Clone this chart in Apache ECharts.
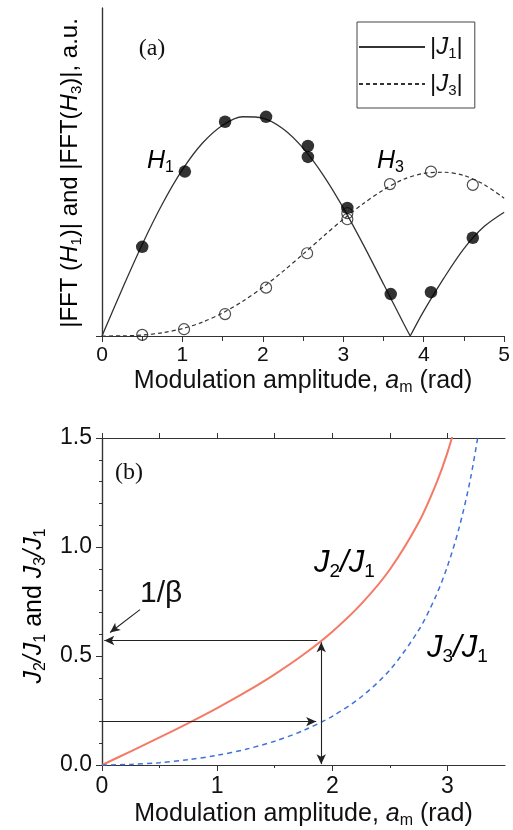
<!DOCTYPE html>
<html>
<head>
<meta charset="utf-8">
<script src="https://cdn.jsdelivr.net/npm/echarts@6/dist/echarts.min.js"></script>
<style>html,body{margin:0;padding:0;background:#fff}#c{width:513px;height:830px}</style>
</head>
<body>
<div id="c"></div>
<script>
// ---------- Panel (a) data ----------
const xJ1a = [0, 0.25, 0.5, 0.75, 1, 1.25, 1.5, 1.75, 2, 2.25, 2.5, 2.75, 3, 3.25, 3.5, 3.75, 3.832];
const yJ1a = [0, 0.124, 0.2423, 0.3492, 0.4401, 0.5106, 0.5579, 0.5802, 0.5767, 0.5484, 0.4971, 0.426, 0.3391, 0.2411, 0.1374, 0.0329, 0];
const xJ1b = [3.832, 4, 4.25, 4.5, 4.75, 5];
const yJ1b = [0, 0.066, 0.153, 0.2311, 0.2895, 0.3276];
const xJ3 = [0, 0.25, 0.5, 0.75, 1, 1.25, 1.5, 1.75, 2, 2.25, 2.5, 2.75, 3, 3.25, 3.5, 3.75, 4, 4.25, 4.5, 4.75, 5];
const yJ3 = [0, 0.0003, 0.0026, 0.0085, 0.0196, 0.0368, 0.061, 0.0919, 0.1289, 0.1711, 0.2166, 0.2634, 0.3091, 0.3505, 0.3868, 0.4147, 0.4302, 0.4333, 0.4247, 0.401, 0.3648];
const xH1 = [0.5, 1.03, 1.53, 2.04, 2.56, 2.56, 3.05, 3.59, 4.09, 4.61];
const yH1 = [0.236, 0.435, 0.567, 0.58, 0.503, 0.474, 0.339, 0.111, 0.116, 0.26];
const xH3 = [0.5, 1.02, 1.53, 2.04, 2.55, 3.05, 3.05, 3.58, 4.09, 4.61];
const yH3 = [0.003, 0.018, 0.058, 0.128, 0.219, 0.309, 0.325, 0.402, 0.435, 0.4];

// ---------- Panel (b) data ----------
const xR21 = [0, 0.25, 0.5, 0.75, 1, 1.25, 1.5, 1.75, 2, 2.25, 2.5, 2.75, 2.9, 3, 3.1];
const yR21 = [0, 0.0627, 0.1263, 0.1922, 0.2611, 0.3351, 0.416, 0.5067, 0.6118, 0.738, 0.897, 1.112, 1.287, 1.433, 1.616];
const xR31 = [0, 0.25, 0.5, 0.75, 1, 1.25, 1.5, 1.75, 2, 2.25, 2.5, 2.75, 2.9, 3, 3.1, 3.2, 3.3];
const yR31 = [0, 0.0026, 0.0106, 0.0243, 0.0444, 0.0721, 0.1093, 0.1584, 0.2235, 0.312, 0.4357, 0.6183, 0.7754, 0.9115, 1.085, 1.313, 1.62];
const xTicksB = [0, 1, 2, 3];
const xMinorTicksB = [0.5, 1.5, 2.5];
const xTopTicksB = [0, 0.5, 1, 1.5, 2, 2.5, 3];
// arrows: [x1, y1, x2, y2]
const arrowBeta = [0.33, 0.713, 0.07, 0.608];
const arrowUpperH = [1.87, 0.571, 0.02, 0.571];
const arrowVert = [1.904, 0.563, 1.904, 0.004];
const arrowLowerH = [0, 0.199, 1.86, 0.199];

const zip = (xs, ys) => xs.map((x, i) => [x, ys[i]]);
const SANS = 'Liberation Sans';
const SERIF = 'Liberation Serif';
const AX = '#333';

const chart = echarts.init(document.getElementById('c'), null, {renderer: 'canvas'});

function richSet(size, color) {
  return {
    n: {fontFamily: SANS, fontSize: size, color: color},
    i: {fontFamily: SANS, fontSize: size, fontStyle: 'italic', color: color},
    s: {fontFamily: SANS, fontSize: Math.round(size * 0.62), color: color, padding: [Math.round(size * 0.55), 0, 0, 0]}
  };
}

const xNameA = '{n|Modulation amplitude, }{i|a}{s|m}{n| (rad)}';

const baseLine = {show: true, lineStyle: {color: AX, width: 1.2}};

function arrowLine(a, sym) {
  return [{coord: [a[0], a[1]], symbol: sym[0]}, {coord: [a[2], a[3]], symbol: sym[1]}];
}

const option = {
  animation: false,
  backgroundColor: '#fff',
  grid: [
    {left: 102, right: 8, top: 8, height: 328},
    {left: 102, right: 8, top: 438, height: 327.5}
  ],
  legend: {
    data: ['|J1|', '|J3|'],
    orient: 'vertical',
    left: 357, top: 22,
    padding: [13, 12, 10, 1],
    itemWidth: 66, itemHeight: 14, itemGap: 11,
    borderColor: '#444', borderWidth: 1,
    itemStyle: {opacity: 0, borderWidth: 0},
    formatter: function (name) {
      return name === '|J1|' ? '{n||}{i|J}{s|1}{n||}' : '{n||}{i|J}{s|3}{n||}';
    },
    textStyle: {rich: richSet(24, '#111')},
    selectedMode: false
  },
  xAxis: [
    {gridIndex: 0, type: 'value', position: 'bottom', min: 0, max: 5, interval: 1,
     axisLine: baseLine, splitLine: {show: false},
     axisTick: {show: true, inside: false, length: 6, lineStyle: {color: AX}},
     minorTick: {show: true, splitNumber: 2, length: 3, lineStyle: {color: AX}},
     axisLabel: {fontFamily: SANS, fontSize: 21, color: '#111', margin: 9},
     name: xNameA, nameLocation: 'middle', nameGap: 30,
     nameTextStyle: {rich: richSet(25, '#111')}},
    {gridIndex: 0, type: 'value', position: 'top', min: 0, max: 5, interval: 0.5,
     axisLine: baseLine, splitLine: {show: false},
     axisTick: {show: true, inside: true, length: 5, lineStyle: {color: AX}},
     axisLabel: {show: false}},
    {gridIndex: 1, type: 'value', position: 'bottom', min: 0, max: 3.5,
     axisLine: baseLine, splitLine: {show: false},
     axisTick: {show: true, inside: false, length: 6, customValues: xTicksB, lineStyle: {color: AX}},
     axisLabel: {fontFamily: SANS, fontSize: 23, color: '#111', margin: 10, customValues: xTicksB},
     name: xNameA, nameLocation: 'middle', nameGap: 34,
     nameTextStyle: {rich: richSet(25, '#111')}},
    {gridIndex: 1, type: 'value', position: 'bottom', min: 0, max: 3.5,
     axisLine: {show: false}, splitLine: {show: false},
     axisTick: {show: true, inside: false, length: 3, customValues: xMinorTicksB, lineStyle: {color: AX}},
     axisLabel: {show: false}},
    {gridIndex: 1, type: 'value', position: 'top', min: 0, max: 3.5,
     axisLine: baseLine, splitLine: {show: false},
     axisTick: {show: true, inside: false, length: 5, customValues: xTopTicksB, lineStyle: {color: AX}},
     axisLabel: {show: false}}
  ],
  yAxis: [
    {gridIndex: 0, type: 'value', position: 'left', min: 0, max: 0.868,
     axisLine: baseLine, splitLine: {show: false},
     axisTick: {show: true, length: 6, customValues: [0], lineStyle: {color: AX}},
     axisLabel: {show: false}},
    {gridIndex: 0, type: 'value', position: 'right', min: 0, max: 0.868,
     axisLine: baseLine, splitLine: {show: false}, axisTick: {show: false}, axisLabel: {show: false}},
    {gridIndex: 1, type: 'value', position: 'left', min: 0, max: 1.5, interval: 0.5,
     axisLine: baseLine, splitLine: {show: false},
     axisTick: {show: true, length: 6, lineStyle: {color: AX}},
     minorTick: {show: true, splitNumber: 5, length: 3, lineStyle: {color: AX}},
     axisLabel: {fontFamily: SANS, fontSize: 23, color: '#111', margin: 10,
       formatter: v => v.toFixed(1)}},
    {gridIndex: 1, type: 'value', position: 'right', min: 0, max: 1.5,
     axisLine: baseLine, splitLine: {show: false}, axisTick: {show: false}, axisLabel: {show: false}}
  ],
  series: [
    {name: '|J1|', type: 'line', xAxisIndex: 0, yAxisIndex: 0, data: zip(xJ1a, yJ1a),
     smooth: 0.3, symbol: 'none', lineStyle: {color: '#333', width: 1.3}, itemStyle: {color: '#333'}},
    {name: '|J1|', type: 'line', xAxisIndex: 0, yAxisIndex: 0, data: zip(xJ1b, yJ1b),
     smooth: 0.3, symbol: 'none', lineStyle: {color: '#333', width: 1.3}, itemStyle: {color: '#333'}},
    {name: '|J3|', type: 'line', xAxisIndex: 0, yAxisIndex: 0, data: zip(xJ3, yJ3),
     smooth: 0.3, symbol: 'none', lineStyle: {color: '#333', width: 1.2, type: [4, 3]}, itemStyle: {color: '#333'}},
    {name: 'H3', type: 'scatter', xAxisIndex: 0, yAxisIndex: 0, data: zip(xH3, yH3),
     symbol: 'circle', symbolSize: 11, z: 4,
     itemStyle: {color: 'rgba(255,255,255,0)', borderColor: '#222', borderWidth: 1.2}},
    {name: 'H1', type: 'scatter', xAxisIndex: 0, yAxisIndex: 0, data: zip(xH1, yH1),
     symbol: 'circle', symbolSize: 12.5, z: 5, itemStyle: {color: '#000'}},
    {name: 'J2/J1', type: 'line', xAxisIndex: 2, yAxisIndex: 2, data: zip(xR21, yR21),
     smooth: 0.3, symbol: 'none', clip: true, lineStyle: {color: '#f47a66', width: 2}},
    {name: 'J3/J1', type: 'line', xAxisIndex: 2, yAxisIndex: 2, data: zip(xR31, yR31),
     smooth: 0.3, symbol: 'none', clip: true, lineStyle: {color: '#3f72d8', width: 1.5, type: [5, 4]}},
    {name: 'arrows', type: 'line', xAxisIndex: 2, yAxisIndex: 2, data: [], symbol: 'none',
     markLine: {
       silent: true, animation: false,
       symbolSize: [7, 10],
       label: {show: false},
       lineStyle: {color: '#222', width: 1.1, type: 'solid'},
       emphasis: {disabled: true},
       data: [
         arrowLine(arrowBeta, ['none', 'arrow']),
         arrowLine(arrowUpperH, ['none', 'arrow']),
         arrowLine(arrowVert, ['arrow', 'arrow']),
         arrowLine(arrowLowerH, ['none', 'arrow'])
       ]
     }}
  ],
  graphic: [
    {type: 'text', x: 152, y: 49, style: {text: '(a)', font: '24px ' + SERIF, fill: '#111', align: 'center', verticalAlign: 'middle'}},
    {type: 'text', x: 129, y: 473, style: {text: '(b)', font: '24px ' + SERIF, fill: '#111', align: 'center', verticalAlign: 'middle'}},
    {type: 'text', x: 147, y: 161, style: {text: '{i|H}{s|1}', rich: richSet(25, '#111'), align: 'left', verticalAlign: 'middle'}},
    {type: 'text', x: 377, y: 161, style: {text: '{i|H}{s|3}', rich: richSet(25, '#111'), align: 'left', verticalAlign: 'middle'}},
    {type: 'text', x: 140, y: 594, style: {text: '1/β', font: '30px ' + SANS, fill: '#111', align: 'left', verticalAlign: 'middle'}},
    {type: 'text', x: 314, y: 563, style: {text: '{i|J}{s|2}{i|/J}{s|1}', rich: richSet(31, '#f0402c'), align: 'left', verticalAlign: 'middle'}},
    {type: 'text', x: 427, y: 648, style: {text: '{i|J}{s|3}{i|/J}{s|1}', rich: richSet(31, '#2c5cc5'), align: 'left', verticalAlign: 'middle'}},
    {type: 'text', x: 70, y: 173, rotation: Math.PI / 2,
     style: {text: '{n||FFT (}{i|H}{s|1}{n|)| and |FFT(}{i|H}{s|3}{n|)|, a.u.}', rich: richSet(24, '#111'), align: 'center', verticalAlign: 'middle'}},
    {type: 'text', x: 34, y: 606, rotation: Math.PI / 2,
     style: {text: '{i|J}{s|2}{i|/J}{s|1}{n| and }{i|J}{s|3}{i|/J}{s|1}', rich: richSet(25, '#111'), align: 'center', verticalAlign: 'middle'}}
  ]
};
chart.setOption(option);
</script>
</body>
</html>
